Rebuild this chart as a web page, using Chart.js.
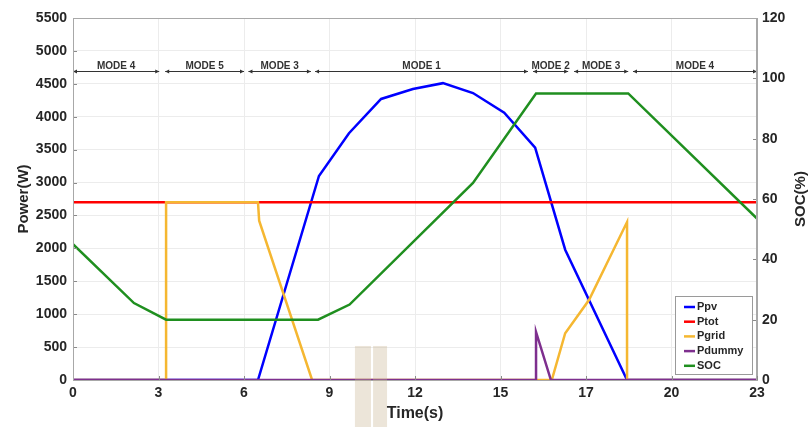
<!DOCTYPE html>
<html>
<head>
<meta charset="utf-8">
<script src="https://cdn.jsdelivr.net/npm/chart.js@4.4.1/dist/chart.umd.min.js"></script>
<style>
html, body { margin: 0; padding: 0; background: #fff; }
</style>
</head>
<body>
<canvas id="chart" width="811" height="427"></canvas>
<script>
// tick labels on the time axis (evenly spaced over 0..23)
var xTickLabels = ['0', '3', '6', '9', '12', '15', '17', '20', '23'];

// Ppv
var pvTime = [0, 6.22, 8.27, 9.28, 10.36, 11.43, 12.44, 13.45, 14.5, 15.54, 16.55, 18.63, 23];
var pvPower = [0, 0, 3100, 3750, 4270, 4420, 4510, 4360, 4060, 3530, 1980, 0, 0];

// Ptot
var totTime = [0, 23];
var totPower = [2700, 2700];

// Pgrid
var gridTime = [0, 3.13, 3.13, 6.22, 6.26, 8.04, 16.1, 16.55, 17.35, 18.63, 18.63, 23];
var gridPower = [0, 0, 2700, 2700, 2420, 0, 0, 710, 1215, 2400, 0, 0];

// Pdummy
var dummyTime = [0, 15.57, 15.57, 16.07, 23];
var dummyPower = [0, 0, 730, 0, 0];

// SOC (right axis)
var socTime = [0, 2.05, 3.13, 8.24, 9.3, 13.45, 15.57, 18.67, 23];
var socValue = [45, 25.5, 20, 20, 25, 65.3, 95, 95, 53.5];

// operating modes drawn as arrows across the top
var modeLabels = ['MODE 4', 'MODE 5', 'MODE 3', 'MODE 1', 'MODE 2', 'MODE 3', 'MODE 4'];
var modeStart = [0, 3.1, 5.9, 8.14, 15.47, 16.85, 18.83];
var modeEnd = [2.9, 5.75, 8.0, 15.3, 16.65, 18.67, 23];
var modeLevel = 4700;

// beige blocks that sit over the bottom of the picture
var blockStart = [9.48, 10.09];
var blockEnd = [10.02, 10.56];
var blockTop = 517;

var FONT = "'Liberation Sans', Arial, sans-serif";
var TXT = '#262626';

function pts(xs, ys) {
    return xs.map(function (x, i) { return {x: x, y: ys[i]}; });
}

var modesPlugin = {
    id: 'modes',
    afterDatasetsDraw: function (chart) {
        var ctx = chart.ctx, sx = chart.scales.x, sy = chart.scales.y;
        var y = Math.round(sy.getPixelForValue(modeLevel)) + 0.5;
        ctx.save();
        ctx.strokeStyle = '#333';
        ctx.fillStyle = '#333';
        ctx.lineWidth = 1;
        for (var i = 0; i < modeLabels.length; i++) {
            var x1 = sx.getPixelForValue(modeStart[i]);
            var x2 = sx.getPixelForValue(modeEnd[i]);
            ctx.beginPath();
            ctx.moveTo(x1, y);
            ctx.lineTo(x2, y);
            ctx.stroke();
            // arrow heads
            ctx.beginPath();
            ctx.moveTo(x1, y); ctx.lineTo(x1 + 4, y - 2); ctx.lineTo(x1 + 4, y + 2); ctx.closePath();
            ctx.moveTo(x2, y); ctx.lineTo(x2 - 4, y - 2); ctx.lineTo(x2 - 4, y + 2); ctx.closePath();
            ctx.fill();
            ctx.font = 'bold 10px ' + FONT;
            ctx.textAlign = 'center';
            ctx.textBaseline = 'alphabetic';
            ctx.fillText(modeLabels[i], (x1 + x2) / 2, y - 3);
        }
        ctx.restore();
    }
};

var framePlugin = {
    id: 'frame',
    afterDraw: function (chart) {
        var ctx = chart.ctx, a = chart.chartArea;
        var sx = chart.scales.x, sy = chart.scales.y, sy1 = chart.scales.y1;
        ctx.save();
        // inner ticks
        ctx.strokeStyle = '#8a8a8a';
        ctx.lineWidth = 1;
        ctx.beginPath();
        sy.ticks.forEach(function (t) {
            var p = Math.round(sy.getPixelForValue(t.value)) + 0.5;
            ctx.moveTo(a.left, p); ctx.lineTo(a.left + 4, p);
        });
        sy1.ticks.forEach(function (t) {
            var p = Math.round(sy1.getPixelForValue(t.value)) + 0.5;
            ctx.moveTo(a.right, p); ctx.lineTo(a.right - 4, p);
        });
        sx.ticks.forEach(function (t) {
            var p = Math.round(sx.getPixelForValue(t.value)) + 0.5;
            ctx.moveTo(p, a.bottom); ctx.lineTo(p, a.bottom - 4);
        });
        ctx.stroke();
        // box
        ctx.strokeStyle = '#a8a8a8';
        ctx.strokeRect(a.left + 0.5, a.top + 0.5, a.right - a.left - 1, a.bottom - a.top);

        // right axis title, reading upwards like the left one
        ctx.save();
        ctx.translate(801, (a.top + a.bottom) / 2);
        ctx.rotate(-Math.PI / 2);
        ctx.font = 'bold 15px ' + FONT;
        ctx.fillStyle = TXT;
        ctx.textAlign = 'center';
        ctx.textBaseline = 'middle';
        ctx.fillText('SOC(%)', 0, 0);
        ctx.restore();

        // legend box
        var w = 77, h = 78;
        var lx = a.right - 5 - w, ly = a.bottom - 6 - h;
        ctx.fillStyle = '#fff';
        ctx.fillRect(lx, ly, w, h);
        ctx.strokeStyle = '#9a9a9a';
        ctx.strokeRect(lx + 0.5, ly + 0.5, w, h);
        ctx.font = 'bold 11px ' + FONT;
        ctx.textAlign = 'left';
        ctx.textBaseline = 'middle';
        chart.data.datasets.forEach(function (ds, i) {
            var yy = ly + 11 + i * 14.7;
            ctx.strokeStyle = ds.borderColor;
            ctx.lineWidth = 2.5;
            ctx.beginPath();
            ctx.moveTo(lx + 9, yy); ctx.lineTo(lx + 20, yy);
            ctx.stroke();
            ctx.fillStyle = TXT;
            ctx.fillText(ds.label, lx + 22, yy);
        });

        // beige blocks
        ctx.fillStyle = 'rgba(200,180,145,0.35)';
        var top = sy.getPixelForValue(blockTop);
        for (var i = 0; i < blockStart.length; i++) {
            var b1 = sx.getPixelForValue(blockStart[i]);
            var b2 = sx.getPixelForValue(blockEnd[i]);
            ctx.fillRect(b1, top, b2 - b1, chart.height - top);
        }
        ctx.restore();
    }
};

var common = {pointRadius: 0, borderWidth: 2.5, tension: 0, fill: false};
var plain = function (v) { return String(v); };

new Chart(document.getElementById('chart'), {
    type: 'line',
    data: {
        datasets: [
            Object.assign({label: 'Ppv', data: pts(pvTime, pvPower), borderColor: '#0000ff', yAxisID: 'y', order: 4}, common),
            Object.assign({label: 'Ptot', data: pts(totTime, totPower), borderColor: '#ff0000', yAxisID: 'y', order: 3}, common),
            Object.assign({label: 'Pgrid', data: pts(gridTime, gridPower), borderColor: '#f5b731', yAxisID: 'y', order: 2}, common),
            Object.assign({label: 'Pdummy', data: pts(dummyTime, dummyPower), borderColor: '#7e2f8e', yAxisID: 'y', order: 0}, common),
            Object.assign({label: 'SOC', data: pts(socTime, socValue), borderColor: '#1f8f1f', yAxisID: 'y1', order: 1}, common)
        ]
    },
    options: {
        responsive: false,
        animation: false,
        devicePixelRatio: 1,
        layout: {padding: {top: 18, left: 0, right: 0, bottom: 0}},
        plugins: {legend: {display: false}, tooltip: {enabled: false}},
        scales: {
            x: {
                type: 'linear', position: 'bottom', min: 0, max: 23,
                afterBuildTicks: function (s) {
                    s.ticks = xTickLabels.map(function (l, i) { return {value: i * 23 / (xTickLabels.length - 1)}; });
                },
                afterFit: function (s) { s.height = 47; },
                ticks: {
                    autoSkip: false, maxRotation: 0, padding: 5, color: TXT,
                    font: {family: FONT, size: 14, weight: 'bold'},
                    callback: function (v, i) { return xTickLabels[i]; }
                },
                grid: {color: '#ececec', drawTicks: false},
                border: {color: '#a8a8a8'},
                title: {display: true, text: 'Time(s)', color: TXT, font: {family: FONT, size: 16, weight: 'bold'}, padding: {top: 0, bottom: 4}}
            },
            y: {
                position: 'left', min: 0, max: 5500,
                afterFit: function (s) { s.width = 73; },
                ticks: {stepSize: 500, padding: 6, color: TXT, font: {family: FONT, size: 14, weight: 'bold'}, callback: plain},
                grid: {color: '#ececec', drawTicks: false},
                border: {color: '#a8a8a8'},
                title: {display: true, text: 'Power(W)', color: TXT, font: {family: FONT, size: 15, weight: 'bold'}, padding: {top: 15, bottom: 0}}
            },
            y1: {
                position: 'right', min: 0, max: 120,
                afterFit: function (s) { s.width = 54; },
                ticks: {stepSize: 20, padding: 5, color: TXT, font: {family: FONT, size: 14, weight: 'bold'}, callback: plain},
                grid: {drawOnChartArea: false, drawTicks: false},
                border: {color: '#a8a8a8'}
            }
        }
    },
    plugins: [modesPlugin, framePlugin]
});
</script>
</body>
</html>
